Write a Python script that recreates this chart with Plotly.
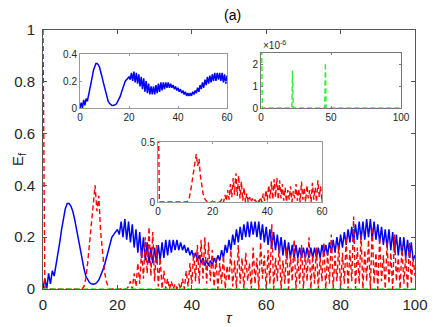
import plotly.graph_objects as go

# ---------------- data ----------------
tau_start = 0.0
tau_step = 0.5

# blue: E_f of first subsystem, sampled every 0.5 in tau from 0 to 100
blue_vals = [
    0.0, 0.04, 0.0, 0.06, 0.02, 0.07, 0.05, 0.09, 0.13, 0.18,
    0.23, 0.28, 0.31, 0.33, 0.33, 0.32, 0.30, 0.27, 0.23, 0.19,
    0.15, 0.11, 0.08, 0.05, 0.035, 0.025, 0.02, 0.018, 0.02, 0.025,
    0.035, 0.05, 0.07, 0.09, 0.12, 0.15, 0.18, 0.20, 0.21, 0.22,
    0.23, 0.21, 0.26, 0.20, 0.27, 0.19, 0.26, 0.18, 0.25, 0.16,
    0.23, 0.14, 0.22, 0.12, 0.20, 0.11, 0.18, 0.10, 0.16, 0.10,
    0.16, 0.10, 0.17, 0.11, 0.18, 0.12, 0.19, 0.13, 0.19, 0.14,
    0.19, 0.15, 0.19, 0.15, 0.18, 0.15, 0.17, 0.14, 0.16, 0.13,
    0.15, 0.12, 0.14, 0.11, 0.13, 0.10, 0.12, 0.09, 0.11, 0.09,
    0.11, 0.09, 0.12, 0.10, 0.13, 0.11, 0.15, 0.12, 0.17, 0.14,
    0.19, 0.15, 0.21, 0.17, 0.23, 0.18, 0.24, 0.19, 0.25, 0.20,
    0.26, 0.20, 0.26, 0.21, 0.26, 0.20, 0.26, 0.19, 0.25, 0.18,
    0.24, 0.17, 0.23, 0.16, 0.22, 0.15, 0.21, 0.14, 0.20, 0.13,
    0.19, 0.12, 0.18, 0.12, 0.17, 0.12, 0.17, 0.12, 0.16, 0.12,
    0.16, 0.12, 0.16, 0.12, 0.16, 0.12, 0.16, 0.12, 0.16, 0.12,
    0.17, 0.13, 0.17, 0.13, 0.18, 0.14, 0.19, 0.14, 0.20, 0.15,
    0.21, 0.16, 0.22, 0.17, 0.23, 0.18, 0.24, 0.18, 0.25, 0.19,
    0.26, 0.19, 0.26, 0.19, 0.27, 0.20, 0.27, 0.19, 0.26, 0.19,
    0.25, 0.18, 0.24, 0.17, 0.23, 0.16, 0.23, 0.15, 0.22, 0.14,
    0.21, 0.13, 0.20, 0.13, 0.20, 0.12, 0.19, 0.12, 0.18, 0.11,
    0.13,
]

# red: E_f of second subsystem, sampled every 0.5 in tau from 0 to 100
red_vals = [
    1.0, 0.0, 0.0, 0.0, 0.0, 0.0, 0.0, 0.0, 0.0, 0.0,
    0.0, 0.0, 0.0, 0.0, 0.0, 0.0, 0.0, 0.0, 0.0, 0.0,
    0.0, 0.0, 0.01, 0.04, 0.10, 0.18, 0.27, 0.33, 0.40, 0.30,
    0.36, 0.22, 0.14, 0.07, 0.03, 0.01, 0.0, 0.0, 0.0, 0.0,
    0.0, 0.0, 0.0, 0.0, 0.0, 0.0, 0.01, 0.03, 0.0, 0.06,
    0.01, 0.10, 0.02, 0.15, 0.04, 0.20, 0.06, 0.24, 0.05, 0.22,
    0.03, 0.17, 0.01, 0.12, 0.0, 0.07, 0.0, 0.04, 0.0, 0.03,
    0.0, 0.02, 0.0, 0.02, 0.0, 0.04, 0.0, 0.07, 0.01, 0.10,
    0.02, 0.14, 0.03, 0.17, 0.02, 0.19, 0.04, 0.20, 0.02, 0.18,
    0.03, 0.15, 0.01, 0.12, 0.0, 0.10, 0.02, 0.13, 0.0, 0.09,
    0.03, 0.15, 0.01, 0.11, 0.0, 0.17, 0.02, 0.12, 0.0, 0.14,
    0.03, 0.10, 0.0, 0.16, 0.02, 0.12, 0.0, 0.18, 0.04, 0.13,
    0.0, 0.15, 0.02, 0.25, 0.0, 0.12, 0.03, 0.17, 0.0, 0.11,
    0.02, 0.16, 0.0, 0.13, 0.03, 0.19, 0.0, 0.12, 0.02, 0.17,
    0.0, 0.14, 0.03, 0.20, 0.0, 0.13, 0.02, 0.16, 0.0, 0.12,
    0.03, 0.18, 0.0, 0.14, 0.02, 0.21, 0.0, 0.13, 0.03, 0.17,
    0.0, 0.14, 0.02, 0.20, 0.0, 0.15, 0.03, 0.28, 0.0, 0.16,
    0.02, 0.21, 0.0, 0.15, 0.03, 0.19, 0.0, 0.24, 0.02, 0.14,
    0.0, 0.20, 0.03, 0.13, 0.0, 0.18, 0.02, 0.14, 0.0, 0.21,
    0.03, 0.12, 0.0, 0.17, 0.02, 0.13, 0.0, 0.18, 0.02, 0.12,
    0.05,
]

# green: E_f of third subsystem (units of 1e-6), sparse reading
green_tau = [0.0, 0.5, 1.0, 22.0, 22.5, 23.0, 45.5, 46.0, 46.5, 100.0]
green_vals_e6 = [2.6, 2.6, 0.0, 0.0, 1.7, 0.0, 0.0, 2.05, 0.0, 0.0]
green_scale = 1e-6

main_xticks = [0, 20, 40, 60, 80, 100]
main_yticks = [0, 0.2, 0.4, 0.6, 0.8, 1]
inset_blue_xticks = [0, 20, 40, 60]
inset_blue_yticks = [0, 0.2, 0.4]
inset_red_xticks = [0, 20, 40, 60]
inset_red_yticks = [0, 0.5]
inset_green_xticks = [0, 50, 100]
inset_green_yticks = [0, 1, 2]

# ---------------- styling ----------------
W, H = 436, 327
BLUE = "#0000ff"
RED = "#ff0000"
GREEN = "#33ee33"
FONT = "Liberation Sans, Arial, sans-serif"
AX = "#262626"
DASH = "5px,3px"


def px_dom(a, b, total):
    return [a / total, b / total]


def py_dom(top, bottom):
    return [1 - bottom / H, 1 - top / H]


fig = go.Figure()

line_b = dict(color=BLUE, width=1.5)
line_r = dict(color=RED, width=1.4, dash=DASH)
line_g = dict(color=GREEN, width=1.4, dash=DASH)

green_main = [v * green_scale for v in green_vals_e6]

# main
fig.add_trace(go.Scatter(y=blue_vals, x0=tau_start, dx=tau_step, mode="lines",
                         line=line_b, xaxis="x", yaxis="y", showlegend=False))
fig.add_trace(go.Scatter(y=red_vals, x0=tau_start, dx=tau_step, mode="lines",
                         line=line_r, xaxis="x", yaxis="y", showlegend=False))
fig.add_trace(go.Scatter(x=green_tau, y=green_main, mode="lines",
                         line=line_g, xaxis="x", yaxis="y", showlegend=False))
# inset blue
fig.add_trace(go.Scatter(y=blue_vals, x0=tau_start, dx=tau_step, mode="lines",
                         line=line_b, xaxis="x2", yaxis="y2", showlegend=False))
# inset green
fig.add_trace(go.Scatter(x=green_tau, y=green_vals_e6, mode="lines",
                         line=line_g, xaxis="x3", yaxis="y3", showlegend=False))
# inset red
fig.add_trace(go.Scatter(y=red_vals, x0=tau_start, dx=tau_step, mode="lines",
                         line=line_r, xaxis="x4", yaxis="y4", showlegend=False))


def axis(dom, rng, ticks, anchor, size, ticklen, color=AX, linecolor="#555"):
    return dict(domain=dom, range=rng, tickvals=ticks, anchor=anchor,
                automargin=False,
                showgrid=False, zeroline=False, showline=True, mirror="ticks",
                linecolor=linecolor, linewidth=1, ticks="inside", ticklen=ticklen,
                tickcolor=linecolor, tickwidth=1,
                tickfont=dict(family=FONT, size=size, color=color))


fig.update_layout(
    width=W, height=H,
    margin=dict(l=0, r=0, t=0, b=0, autoexpand=False),
    paper_bgcolor="white", plot_bgcolor="white",
    xaxis=axis(px_dom(43, 415, W), [0, 100], main_xticks, "y", 15, 4),
    yaxis=axis(py_dom(30, 289), [0, 1], main_yticks, "x", 15, 4),
    xaxis2=axis(px_dom(80, 227, W), [0, 60], inset_blue_xticks, "y2", 10, 2, linecolor="#999"),
    yaxis2=axis(py_dom(54, 108), [0, 0.4], inset_blue_yticks, "x2", 10, 2, linecolor="#999"),
    xaxis3=axis(px_dom(261, 401, W), [0, 100], inset_green_xticks, "y3", 10, 2, linecolor="#777"),
    yaxis3=axis(py_dom(53, 108), [0, 2.5], inset_green_yticks, "x3", 10, 2, linecolor="#777"),
    xaxis4=axis(px_dom(158, 322, W), [0, 60], inset_red_xticks, "y4", 10, 2, linecolor="#999"),
    yaxis4=axis(py_dom(142, 202), [0, 0.5], inset_red_yticks, "x4", 10, 2, linecolor="#999"),
    xaxis_ticklabelstandoff=2,
    yaxis_ticklabelstandoff=4,
)

fig.add_annotation(text="E<sub>f</sub>", x=18 / W, y=1 - 160 / H, xref="paper", yref="paper",
                   showarrow=False, font=dict(family=FONT, size=15, color=AX), textangle=-90,
                   xanchor="center", yanchor="middle")
fig.add_annotation(text="<i>τ</i>", x=230 / W, y=1 - 317 / H, xref="paper", yref="paper",
                   showarrow=False, font=dict(family=FONT, size=15, color=AX),
                   xanchor="center", yanchor="middle")
fig.add_annotation(text="(a)", x=232 / W, y=1 - 15 / H, xref="paper", yref="paper",
                   showarrow=False, font=dict(family=FONT, size=14, color="black"),
                   xanchor="center", yanchor="middle")
fig.add_annotation(text="×10<sup>-6</sup>", x=261 / W, y=1 - 45 / H, xref="paper", yref="paper",
                   showarrow=False, font=dict(family=FONT, size=10, color=AX),
                   xanchor="left", yanchor="middle")

fig.write_html(
    "out.html",
    config={"displayModeBar": False},
    post_script="document.body.style.margin='0';document.body.style.overflow='hidden';",
)
